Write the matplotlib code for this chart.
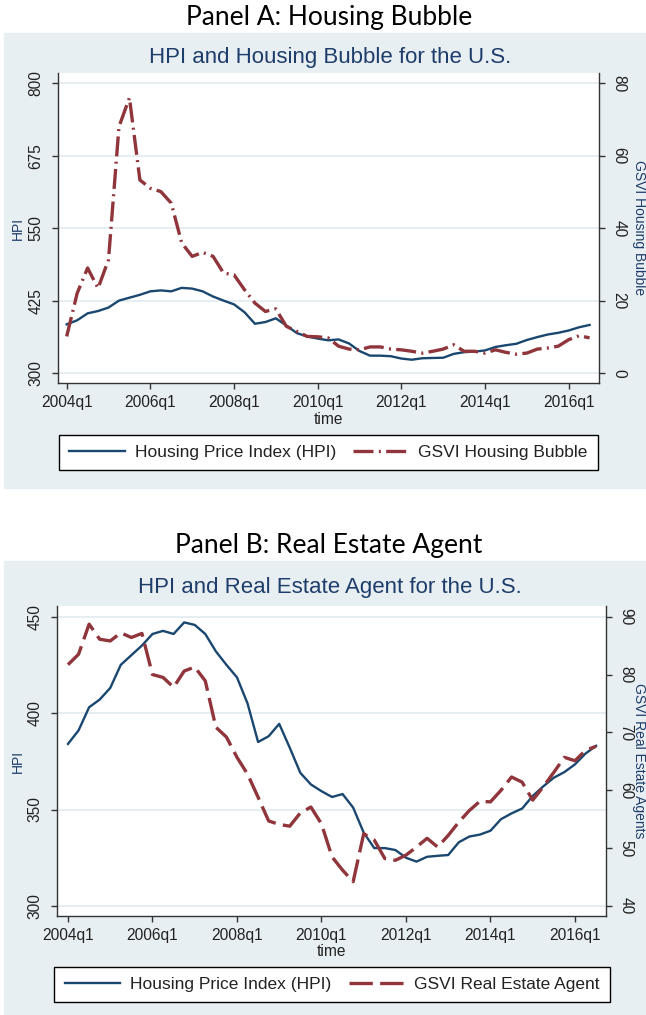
import numpy as np
import matplotlib
matplotlib.use('Agg')
from matplotlib import pyplot as plt
from matplotlib.patches import Rectangle

plt.rcParams['font.family'] = ['Liberation Sans', 'DejaVu Sans']

# quarterly series, 2004q1 .. 2016q3
quarters = [f'{y}q{q}' for y in range(2004, 2017) for q in range(1, 5)][:51]
tick_labels = ['2004q1', '2006q1', '2008q1', '2010q1', '2012q1', '2014q1', '2016q1']

hpi = [384, 391, 403, 407, 413, 425, 430, 435, 441, 442.6,
       441, 447, 445.7, 441, 432, 425, 418.5, 405, 385, 388,
       394.4, 382, 369, 363, 359.5, 356.5, 358, 351, 338, 330,
       330, 329, 325, 323, 325.5, 326, 326.4, 333, 336, 337,
       339, 345, 348, 350.5, 357, 362, 366.5, 369.4, 373.4, 379,
       383]

gsvi_bubble = [10.1, 22, 29, 23.4, 31.3, 68, 76, 53.3, 51, 50.1,
               46.9, 35.9, 32.2, 33.3, 32.2, 27.6, 27.1, 23, 19.3, 17,
               17.7, 12.9, 11.5, 10.1, 10, 9.7, 7.4, 6.6, 6.4, 7.2,
               7.2, 6.6, 6.4, 6, 5.5, 6, 6.6, 7.8, 6, 6,
               5.5, 6.4, 5.7, 5.2, 5.5, 6.6, 6.9, 7.4, 9.2, 10.3,
               9.7]

gsvi_agent = [81.7, 83.5, 88.7, 86.1, 85.8, 87.2, 86.4, 87.1, 80, 79.5,
              77.8, 80.6, 81.3, 78.9, 70.9, 69.2, 65.7, 62.8, 58.8, 54.7,
              54.1, 53.8, 56.1, 57.1, 54.2, 48.5, 46.2, 44.2, 52.5, 51.4,
              48.2, 47.9, 48.8, 50.2, 51.7, 50.2, 52.2, 54.5, 56.5, 58.1,
              58, 60, 62.3, 61.4, 58.3, 60.6, 63.1, 65.7, 65.1, 66.9,
              67.6]

W, H = 646, 1015
BG = '#E7EFF2'
GRID = '#E4EDF1'
NAVY = '#1a476f'
MAROON = '#90353b'
TITLE = '#1f3d6b'
INK = '#222222'


def frect(x0, y0, x1, y1):
    # pixel box (top-left origin) -> figure fraction
    return [x0 / W, 1 - y1 / H, (x1 - x0) / W, (y1 - y0) / H]


def drawPanel(fig, heading, subtitle, bg, box, ylim1, yticks1, ylim2, yticks2,
              xlim, gsvi, gsvi_label, rlabel, dash, heading_y, sub_y, leg_box):
    fig.patches.append(Rectangle((bg[0] / W, 1 - bg[3] / H), (bg[2] - bg[0]) / W,
                                 (bg[3] - bg[1]) / H, transform=fig.transFigure,
                                 color=BG, zorder=-5))
    fig.text(329 / W, 1 - heading_y / H, heading, ha='center', va='center',
             fontsize=19, family=['Lato', 'DejaVu Sans'], color='black')
    fig.text(330 / W, 1 - sub_y / H, subtitle, ha='center', va='center',
             fontsize=16, color=TITLE)

    x = np.arange(len(quarters))
    ax = fig.add_axes(frect(*box))
    ax.set_facecolor('white')
    ax2 = ax.twinx()

    l1, = ax.plot(x, hpi, color=NAVY, lw=1.7)
    l2, = ax2.plot(x, gsvi, color=MAROON, lw=2.4, linestyle=dash)

    ax.set_xlim(*xlim)
    ax.set_ylim(*ylim1)
    ax2.set_ylim(*ylim2)
    ax.set_yticks(yticks1)
    ax2.set_yticks(yticks2)
    ax.set_xticks([quarters.index(t) for t in tick_labels])
    ax.set_xticklabels(tick_labels)

    ax.yaxis.grid(True, color=GRID, lw=1.3)
    ax.set_axisbelow(True)

    for s in ['top', 'right']:
        ax.spines[s].set_visible(False)
    for s in ['top', 'left', 'bottom']:
        ax2.spines[s].set_visible(False)
    for sp in [ax.spines['left'], ax.spines['bottom'], ax2.spines['right']]:
        sp.set_color('#333333')
        sp.set_linewidth(1.0)

    ax.tick_params(axis='x', length=4, width=1, labelsize=11.2, pad=4.5,
                   color='#333333', labelcolor=INK)
    ax.tick_params(axis='y', length=4.5, width=1, labelsize=11.2, pad=6,
                   color='#333333', labelcolor=INK, labelrotation=90)
    ax2.tick_params(axis='y', length=4, width=1, labelsize=11.2, pad=5,
                    color='#333333', labelcolor=INK, labelrotation=270)
    for lab in ax.get_yticklabels() + ax2.get_yticklabels():
        lab.set_va('center')

    pw = box[2] - box[0]
    ph = box[3] - box[1]
    ax.set_xlabel('time', fontsize=11.2, color=INK)
    ax.xaxis.label.set_va('center')
    ax.xaxis.set_label_coords(0.5, -(36 / ph))
    ax.set_ylabel('HPI', fontsize=10, color=TITLE)
    ax.yaxis.label.set_va('center')
    ax.yaxis.set_label_coords(-(box[0] - 18) / pw, 0.5)
    ax2.set_ylabel(rlabel, fontsize=10, color=TITLE, rotation=270)
    ax2.yaxis.label.set_va('center')
    ax2.yaxis.set_label_coords((639 - box[0]) / pw, 0.5)

    cx = (leg_box[0] + leg_box[2]) / 2 / W
    cy = 1 - (leg_box[1] + leg_box[3]) / 2 / H
    leg = fig.legend([l1, l2], ['Housing Price Index (HPI)', gsvi_label],
                     loc='center', bbox_to_anchor=(cx, cy), ncol=2,
                     fontsize=12.5, frameon=True, fancybox=False,
                     edgecolor='black', framealpha=1, handlelength=3.2,
                     handletextpad=0.55, columnspacing=1.0, borderpad=0.6)
    leg.get_frame().set_linewidth(1.0)
    for t in leg.get_texts():
        t.set_color(INK)


if __name__ == '__main__':
    fig = plt.figure(figsize=(W / 100, H / 100), dpi=100)

    drawPanel(fig, 'Panel A: Housing Bubble', 'HPI and Housing Bubble for the U.S.',
              (4, 33, 646, 488), (58, 73, 599, 383),
              (282.8, 817.8), [300, 425, 550, 675, 800],
              (-2.76, 82.84), [0, 20, 40, 60, 80],
              (-0.83, 50.9), gsvi_bubble, 'GSVI Housing Bubble',
              'GSVI Housing Bubble', (0, (6, 1.6, 0.6, 1.6)),
              17, 58, (63, 436, 594, 469))

    drawPanel(fig, 'Panel B: Real Estate Agent', 'HPI and Real Estate Agent for the U.S.',
              (4, 561, 646, 1015), (57, 606, 606, 916),
              (294.8, 455.5), [300, 350, 400, 450],
              (38.28, 91.84), [40, 50, 60, 70, 80, 90],
              (-1.04, 50.94), gsvi_agent, 'GSVI Real Estate Agent',
              'GSVI Real Estate Agents', (0, (7, 2.2)),
              545, 588, (63, 968, 601, 1001))

    fig.savefig('out.png', dpi=100)
